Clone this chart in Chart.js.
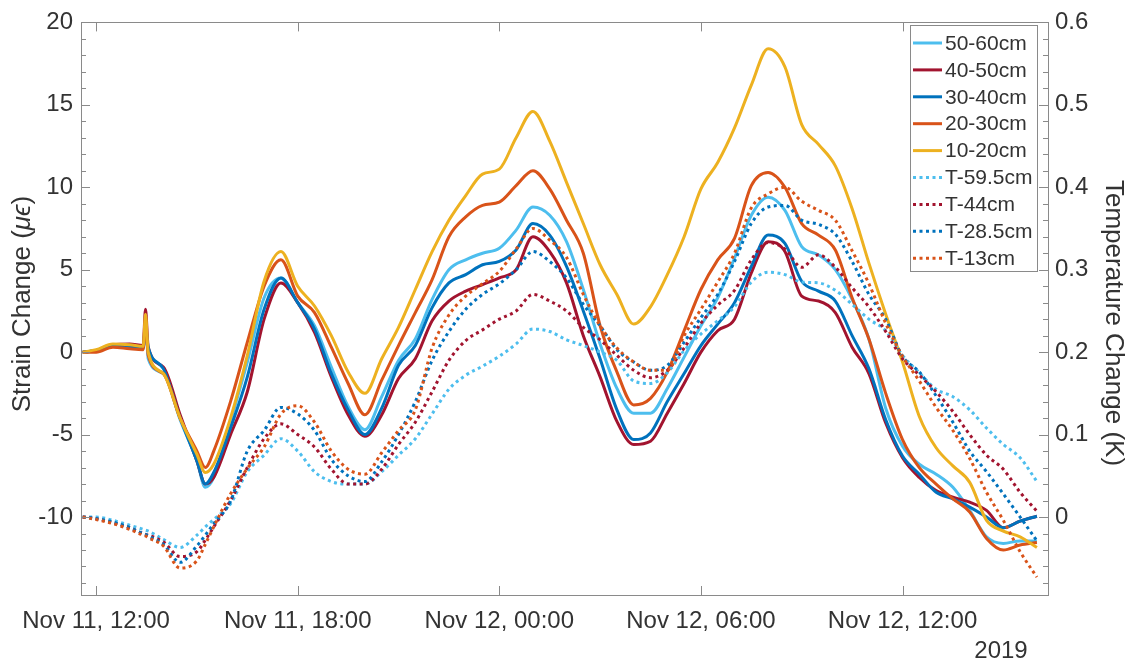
<!DOCTYPE html>
<html>
<head>
<meta charset="utf-8">
<script src="https://cdn.jsdelivr.net/npm/chart.js@4.4.1/dist/chart.umd.min.js"></script>
<style>
  html, body { margin: 0; padding: 0; background: #fff; }
  #wrap { width: 1130px; height: 667px; position: relative; }
</style>
</head>
<body>
<div id="wrap"><canvas id="chart"></canvas></div>
<script>
// time axis: hours since Nov 11 2019, 00:00
const hours = [11.6, 12, 12.5, 13, 13.4, 13.47, 13.55, 14, 14.5, 15, 15.25, 15.5, 16, 16.5, 17, 17.5, 18, 18.5, 19, 19.5, 20,
  20.5, 21, 21.5, 22, 22.5, 23, 23.5, 24, 24.5, 25, 25.5, 26, 26.5, 27, 27.5, 28, 28.5, 29, 29.5, 30,
  30.5, 31, 31.5, 32, 32.5, 33, 33.5, 34, 34.5, 35, 35.5, 36, 36.5, 37, 37.5, 38, 38.5, 39, 39.5, 40];

// strain change (micro strain), left axis
const strain5060 = [0, 0.1, 0.4, 0.35, 0.2, 1.8, -0.4, -1.3, -4.1, -6.6, -8.2, -7.6, -4.2, -0.6, 3.3, 4.5, 3.0, 1.6, -0.9, -3.3, -4.7,
  -2.7, -0.5, 0.8, 3.2, 5.0, 5.6, 6.0, 6.3, 7.4, 8.8, 8.3, 6.7, 3.8, 0.5, -2.2, -3.7, -3.7, -2.2, -0.3, 1.6,
  3.3, 5.7, 8.3, 9.4, 8.6, 6.4, 5.9, 5.0, 3.2, 0.8, -3.4, -5.7, -6.8, -7.4, -8.2, -9.6, -11.2, -11.6, -11.45, -11.45];
const strain4050 = [0, 0.1, 0.45, 0.5, 0.4, 2.6, 0.3, -0.9, -3.8, -6.6, -8.0, -7.6, -5.0, -2.4, 2.0, 4.2, 3.0, 1.2, -1.5, -3.8, -5.1,
  -3.8, -1.6, -0.4, 1.9, 3.1, 3.7, 4.1, 4.5, 5.0, 7.0, 6.1, 4.2, 1.0, -1.5, -4.2, -5.6, -5.4, -3.7, -1.9, 0.0,
  1.3, 2.0, 4.8, 6.7, 6.1, 3.4, 3.1, 2.4, 0.3, -1.3, -4.3, -6.4, -7.6, -8.4, -8.8, -9.1, -9.6, -10.65, -10.25, -9.95];
const strain3040 = [0, 0.1, 0.4, 0.3, 0.3, 1.5, 0.3, -1.0, -4.0, -6.6, -8.0, -7.3, -4.6, -1.5, 2.6, 4.5, 3.0, 1.4, -1.3, -3.5, -5.0,
  -3.4, -0.8, 0.4, 2.7, 4.2, 4.7, 5.3, 5.5, 6.2, 7.8, 7.1, 5.2, 2.5, -0.4, -3.5, -5.3, -4.9, -3.0, -1.3, 0.4,
  1.7, 3.0, 5.2, 7.1, 6.6, 4.3, 3.7, 3.1, 1.0, -1.0, -4.1, -6.3, -7.4, -8.5, -8.9, -9.4, -10.0, -10.65, -10.25, -9.95];
const strain2030 = [0, 0.0, 0.3, 0.2, 0.15, 2.0, -0.2, -1.3, -4.0, -6.0, -7.0, -6.0, -3.0, 0.6, 4.0, 5.6, 3.4, 2.4, 0.3, -1.9, -3.8,
  -1.7, 0.4, 2.4, 4.4, 7.0, 8.2, 8.9, 9.1, 10.1, 11.0, 9.9, 8.0, 6.0, 1.6, -1.2, -3.2, -2.8, -1.2, 1.3, 3.8,
  5.6, 6.9, 10.1, 10.9, 10.0, 7.8, 7.1, 6.2, 3.3, 0.8, -2.5, -5.3, -7.0, -8.0, -8.9, -9.7, -11.3, -12.0, -11.7, -11.55];
const strain1020 = [0, 0.15, 0.5, 0.45, 0.35, 2.3, 0.0, -1.3, -4.0, -6.2, -7.3, -6.8, -4.0, -0.2, 4.3, 6.1, 4.0, 2.8, 1.0, -1.2, -2.5,
  -0.4, 1.5, 3.8, 6.1, 8.0, 9.5, 10.8, 11.1, 13.0, 14.6, 12.8, 10.3, 7.8, 5.3, 3.5, 1.7, 2.75, 4.7, 7.0, 9.9,
  11.5, 13.6, 16.2, 18.4, 17.3, 13.8, 12.6, 11.3, 8.7, 5.4, 2.3, -0.6, -3.9, -5.8, -6.9, -7.9, -10.2, -10.85, -11.2, -11.85];

// temperature change (K), right axis
const temp595 = [0, 0, -0.004, -0.01, -0.015, -0.016, -0.017, -0.027, -0.037, -0.022, -0.012, -0.003, 0.016, 0.055, 0.075, 0.095, 0.08, 0.055, 0.043, 0.04, 0.04,
  0.055, 0.075, 0.095, 0.125, 0.155, 0.172, 0.183, 0.195, 0.21, 0.228, 0.225, 0.215, 0.208, 0.2, 0.19, 0.165, 0.162, 0.175, 0.202, 0.222,
  0.238, 0.255, 0.285, 0.297, 0.294, 0.285, 0.284, 0.275, 0.258, 0.24, 0.226, 0.196, 0.175, 0.155, 0.146, 0.13, 0.108, 0.088, 0.072, 0.043];
const temp44 = [0, -0.002, -0.007, -0.013, -0.02, -0.021, -0.022, -0.03, -0.048, -0.042, -0.028, -0.012, 0.02, 0.06, 0.095, 0.113, 0.1, 0.085, 0.058, 0.04, 0.04,
  0.058, 0.088, 0.115, 0.152, 0.19, 0.214, 0.227, 0.24, 0.25, 0.27, 0.262, 0.25, 0.23, 0.215, 0.196, 0.178, 0.169, 0.178, 0.205, 0.235,
  0.257, 0.275, 0.312, 0.333, 0.325, 0.303, 0.318, 0.303, 0.278, 0.255, 0.225, 0.192, 0.172, 0.152, 0.128, 0.1, 0.075, 0.058, 0.03, 0.007];
const temp285 = [0, -0.002, -0.006, -0.013, -0.02, -0.021, -0.023, -0.033, -0.055, -0.035, -0.022, -0.008, 0.019, 0.08, 0.105, 0.133, 0.125, 0.105, 0.07, 0.05, 0.043,
  0.067, 0.1, 0.14, 0.19, 0.225, 0.252, 0.27, 0.283, 0.3, 0.322, 0.31, 0.29, 0.258, 0.232, 0.203, 0.188, 0.178, 0.184, 0.212, 0.242,
  0.27, 0.31, 0.356, 0.376, 0.378, 0.36, 0.355, 0.343, 0.31, 0.27, 0.24, 0.195, 0.176, 0.147, 0.115, 0.08, 0.055, 0.028, 0.0, -0.029];
const temp13 = [0, -0.003, -0.008, -0.015, -0.022, -0.023, -0.025, -0.035, -0.062, -0.053, -0.033, -0.012, 0.028, 0.059, 0.085, 0.125, 0.135, 0.115, 0.08, 0.058, 0.052,
  0.078, 0.105, 0.13, 0.205, 0.245, 0.268, 0.283, 0.298, 0.325, 0.35, 0.336, 0.315, 0.27, 0.232, 0.205, 0.188, 0.178, 0.178, 0.22, 0.252,
  0.285, 0.32, 0.375, 0.392, 0.4, 0.383, 0.372, 0.36, 0.323, 0.283, 0.235, 0.195, 0.165, 0.133, 0.105, 0.071, 0.03, -0.004, -0.042, -0.073];

const xTickHours = [12, 18, 24, 30, 36];
const xTickLabels = ['Nov 11, 12:00', 'Nov 11, 18:00', 'Nov 12, 00:00', 'Nov 12, 06:00', 'Nov 12, 12:00'];
const strainTicks = [-10, -5, 0, 5, 10, 15, 20];
const tempTicks = [0, 0.1, 0.2, 0.3, 0.4, 0.5, 0.6];

const FONT = "'Liberation Sans', Arial, sans-serif";
const TEXT = '#333333';
const AXIS = '#8a8a8a';

const series = [
  { label: '50-60cm', data: strain5060, color: '#4DBEEE', axis: 'y', dotted: false },
  { label: '40-50cm', data: strain4050, color: '#A2142F', axis: 'y', dotted: false },
  { label: '30-40cm', data: strain3040, color: '#0072BD', axis: 'y', dotted: false },
  { label: '20-30cm', data: strain2030, color: '#D95319', axis: 'y', dotted: false },
  { label: '10-20cm', data: strain1020, color: '#EDB120', axis: 'y', dotted: false },
  { label: 'T-59.5cm', data: temp595, color: '#4DBEEE', axis: 'y1', dotted: true },
  { label: 'T-44cm', data: temp44, color: '#A2142F', axis: 'y1', dotted: true },
  { label: 'T-28.5cm', data: temp285, color: '#0072BD', axis: 'y1', dotted: true },
  { label: 'T-13cm', data: temp13, color: '#D95319', axis: 'y1', dotted: true },
];

// draws text made of [string, italic] parts, centred on (0,0) of the current transform
function drawParts(ctx, parts, size) {
  const widths = parts.map(([t, it]) => {
    ctx.font = (it ? 'italic ' : '') + size + 'px ' + FONT;
    return ctx.measureText(t).width;
  });
  let x = -widths.reduce((a, b) => a + b, 0) / 2;
  parts.forEach(([t, it], i) => {
    ctx.font = (it ? 'italic ' : '') + size + 'px ' + FONT;
    ctx.fillText(t, x, 0);
    x += widths[i];
  });
}

// inward tick marks, frame, axis titles and legend, matlab style
const framePlugin = {
  id: 'frame',
  afterDraw(chart) {
    const { ctx, chartArea: a, scales } = chart;
    ctx.save();
    ctx.strokeStyle = AXIS;
    ctx.lineWidth = 1;
    ctx.strokeRect(Math.round(a.left) + 0.5, Math.round(a.top) + 0.5,
      Math.round(a.right - a.left), Math.round(a.bottom - a.top));
    ctx.beginPath();
    xTickHours.forEach(h => {
      const px = Math.round(scales.x.getPixelForValue(h)) + 0.5;
      ctx.moveTo(px, a.bottom); ctx.lineTo(px, a.bottom - 9);
      ctx.moveTo(px, a.top); ctx.lineTo(px, a.top + 9);
    });
    for (let v = -14; v <= 20; v++) {
      const py = Math.round(scales.y.getPixelForValue(v)) + 0.5;
      const len = v % 5 === 0 ? 9 : 5;
      ctx.moveTo(a.left, py); ctx.lineTo(a.left + len, py);
    }
    for (let k = -4; k <= 30; k++) {
      const py = Math.round(scales.y1.getPixelForValue(k * 0.02)) + 0.5;
      const len = k % 5 === 0 ? 9 : 5;
      ctx.moveTo(a.right, py); ctx.lineTo(a.right - len, py);
    }
    ctx.stroke();

    // axis titles
    ctx.fillStyle = TEXT;
    ctx.textBaseline = 'middle';
    ctx.textAlign = 'left';
    ctx.save();
    ctx.translate(23, 304);
    ctx.rotate(-Math.PI / 2);
    drawParts(ctx, [['Strain Change (', false], ['μϵ', true], [')', false]], 26);
    ctx.restore();
    ctx.save();
    ctx.translate(1113, 323);
    ctx.rotate(Math.PI / 2);
    drawParts(ctx, [['Temperature Change (K)', false]], 26);
    ctx.restore();

    // legend box
    const lx = 910, ly = 25, lw = 127, lh = 246, step = 26.9;
    ctx.fillStyle = '#fff';
    ctx.fillRect(lx, ly, lw, lh);
    ctx.strokeRect(lx + 0.5, ly + 0.5, lw, lh);
    ctx.font = '21px ' + FONT;
    series.forEach((s, i) => {
      const yy = ly + 18 + i * step;
      ctx.beginPath();
      ctx.strokeStyle = s.color;
      ctx.lineWidth = 3;
      ctx.setLineDash(s.dotted ? [3, 3.5] : []);
      ctx.moveTo(913, yy); ctx.lineTo(942, yy);
      ctx.stroke();
      ctx.setLineDash([]);
      ctx.fillStyle = TEXT;
      ctx.fillText(s.label, 945, yy + 1);
    });

    ctx.font = '24px ' + FONT;
    ctx.textAlign = 'center';
    ctx.fillText('2019', 1001, 651);
    ctx.restore();
  }
};

new Chart(document.getElementById('chart'), {
  type: 'line',
  data: {
    labels: hours,
    datasets: series.map((s, i) => ({
      label: s.label,
      data: s.data,
      yAxisID: s.axis,
      borderColor: s.color,
      backgroundColor: s.color,
      borderWidth: 3,
      borderDash: s.dotted ? [3, 3.5] : [],
      pointRadius: 0,
      cubicInterpolationMode: 'monotone',
      fill: false,
      order: series.length - i,
    })),
  },
  options: {
    responsive: true,
    maintainAspectRatio: false,
    animation: false,
    layout: { padding: { top: 15, left: 0, right: 0, bottom: 0 } },
    plugins: {
      legend: { display: false },
      tooltip: { enabled: false },
    },
    scales: {
      x: {
        type: 'linear',
        min: 11.55,
        max: 40.33,
        grid: { display: false, tickLength: 0 },
        border: { display: false },
        afterBuildTicks: axis => { axis.ticks = xTickHours.map(v => ({ value: v })); },
        afterFit: scale => { scale.height = 72; },
        ticks: {
          autoSkip: false,
          maxRotation: 0,
          padding: 12,
          color: TEXT,
          font: { family: FONT, size: 24 },
          callback: v => xTickLabels[xTickHours.indexOf(v)],
        },
      },
      y: {
        position: 'left',
        min: -14.73,
        max: 20,
        grid: { display: false, tickLength: 0 },
        border: { display: false },
        afterBuildTicks: axis => { axis.ticks = strainTicks.map(v => ({ value: v })); },
        afterFit: scale => { scale.width = 81; },
        ticks: {
          padding: 8,
          color: TEXT,
          font: { family: FONT, size: 24 },
          callback: v => String(v),
        },
      },
      y1: {
        position: 'right',
        min: -0.0946,
        max: 0.6,
        grid: { display: false, tickLength: 0 },
        border: { display: false },
        afterBuildTicks: axis => { axis.ticks = tempTicks.map(v => ({ value: v })); },
        afterFit: scale => { scale.width = 82; },
        ticks: {
          padding: 7,
          color: TEXT,
          font: { family: FONT, size: 24 },
          callback: v => (v === 0 ? '0' : v.toFixed(1)),
        },
      },
    },
  },
  plugins: [framePlugin],
});
</script>
</body>
</html>
